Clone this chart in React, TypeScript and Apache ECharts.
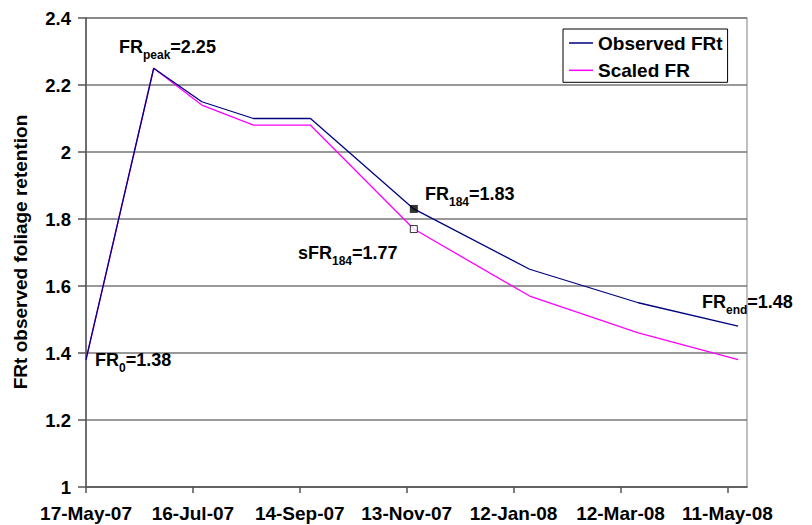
import React, { useEffect, useRef } from "react";
import * as echarts from "echarts";

const dates = [
  "2007-05-17", "2007-06-24", "2007-07-21", "2007-08-19", "2007-09-20",
  "2007-11-17", "2008-01-21", "2008-03-22", "2008-05-17",
];
const observedFRt = [1.38, 2.25, 2.15, 2.1, 2.1, 1.83, 1.65, 1.55, 1.48];
const scaledFR = [1.38, 2.25, 2.14, 2.08, 2.08, 1.77, 1.57, 1.46, 1.38];
const startDate = "2007-05-17";
const xMaxDays = 371;
const xIntervalDays = 60;
const yTicks = ["1", "1.2", "1.4", "1.6", "1.8", "2", "2.2", "2.4"];
const idx184 = 5;
const idxPeak = 1;

const MONTHS = ["Jan", "Feb", "Mar", "Apr", "May", "Jun", "Jul", "Aug", "Sep", "Oct", "Nov", "Dec"];
const DAY = 86400000;
const toUTC = (s: string) => {
  const [y, m, d] = s.split("-").map(Number);
  return Date.UTC(y, m - 1, d);
};
const dayOf = (s: string) => Math.round((toUTC(s) - toUTC(startDate)) / DAY);
const fmtDay = (n: number) => {
  const d = new Date(toUTC(startDate) + n * DAY);
  const dd = String(d.getUTCDate()).padStart(2, "0");
  return `${dd}-${MONTHS[d.getUTCMonth()]}-${String(d.getUTCFullYear()).slice(2)}`;
};

const FONT = "'Liberation Sans', Arial, sans-serif";

export default function App() {
  const ref = useRef<HTMLDivElement>(null);
  useEffect(() => {
    if (!ref.current) return;
    const chart = echarts.init(ref.current, null, { renderer: "svg" });
    const obsData = dates.map((d, i) => [dayOf(d), observedFRt[i]]);
    const scData = dates.map((d, i) => [dayOf(d), scaledFR[i]]);
    const last = dates.length - 1;
    const rich = {
      m: { fontSize: 18, fontWeight: "bold", fontFamily: FONT, color: "#000", lineHeight: 18 },
      s: { fontSize: 12, fontWeight: "bold", fontFamily: FONT, color: "#000", lineHeight: 18, verticalAlign: "top", padding: [11, 0, 0, 0] },
    };
    const ann = (x: number, y: number, pre: string, sub: string, val: number) => ({
      type: "text",
      x,
      y,
      z: 100,
      style: {
        text: `{m|${pre}}{s|${sub}}{m|=${val.toFixed(2)}}`,
        rich,
        verticalAlign: "top",
        align: "left",
      },
    });
    chart.setOption({
      animation: false,
      backgroundColor: "#fff",
      textStyle: { fontFamily: FONT },
      grid: { left: 86, right: 65, top: 18, bottom: 38, show: true, borderColor: "#aaa", borderWidth: 1.5 },
      legend: {
        data: [
          { name: "Observed FRt", icon: "rect" },
          { name: "Scaled FR", icon: "rect" },
        ],
        orient: "vertical",
        left: 563,
        top: 29,
        itemWidth: 24,
        itemHeight: 1.5,
        itemGap: 7.3,
        padding: [4, 5, 2, 6],
        backgroundColor: "#fff",
        borderColor: "#000",
        borderWidth: 1,
        borderRadius: 0,
        textStyle: { fontSize: 19, fontWeight: "bold", color: "#000", fontFamily: FONT, lineHeight: 20 },
      },
      xAxis: {
        type: "value",
        min: 0,
        max: xMaxDays,
        interval: xIntervalDays,
        axisLine: { show: true, lineStyle: { color: "#555", width: 1.5 } },
        axisTick: { show: true, length: 6, lineStyle: { color: "#555", width: 1.5 } },
        splitLine: { show: false },
        axisLabel: {
          margin: 17,
          fontSize: 19,
          fontWeight: "bold",
          color: "#000",
          fontFamily: FONT,
          showMaxLabel: false,
          formatter: (v: number) => (v % xIntervalDays === 0 ? fmtDay(v) : ""),
        },
      },
      yAxis: {
        type: "value",
        min: Number(yTicks[0]),
        max: Number(yTicks[yTicks.length - 1]),
        interval: 0.2,
        axisLine: { show: true, lineStyle: { color: "#555", width: 1.5 } },
        axisTick: { show: true, length: 8, lineStyle: { color: "#555", width: 1.5 } },
        splitLine: { show: true, lineStyle: { color: "#777", width: 1.5 } },
        axisLabel: {
          margin: 15,
          fontSize: 18.5,
          fontWeight: "bold",
          color: "#000",
          fontFamily: FONT,
          formatter: (v: number) => String(Number(v.toFixed(1))),
        },
      },
      series: [
        {
          name: "Observed FRt",
          type: "line",
          data: obsData,
          symbol: "none",
          lineStyle: { color: "#000080", width: 1.3 },
          itemStyle: { color: "#000080" },
          z: 3,
        },
        {
          name: "Scaled FR",
          type: "line",
          data: scData,
          symbol: "none",
          lineStyle: { color: "#ff00ff", width: 1.3 },
          itemStyle: { color: "#ff00ff" },
          z: 2,
        },
        {
          name: "FR184",
          type: "scatter",
          data: [obsData[idx184]],
          symbol: "rect",
          symbolSize: 8,
          itemStyle: { color: "#000", borderColor: "#000", borderWidth: 0 },
          z: 5,
        },
        {
          name: "sFR184",
          type: "scatter",
          data: [scData[idx184]],
          symbol: "rect",
          symbolSize: 7,
          itemStyle: { color: "#fff", borderColor: "#000", borderWidth: 1 },
          z: 5,
        },
      ],
      graphic: [
        {
          type: "text",
          x: 20,
          y: 252,
          rotation: Math.PI / 2,
          style: {
            text: "FRt observed foliage retention",
            fontSize: 19,
            fontWeight: "bold",
            fontFamily: FONT,
            fill: "#000",
            align: "center",
            verticalAlign: "middle",
          },
        },
        ann(119, 38, "FR", "peak", observedFRt[idxPeak]),
        ann(425, 185, "FR", "184", observedFRt[idx184]),
        ann(298, 244, "sFR", "184", scaledFR[idx184]),
        ann(95, 350.5, "FR", "0", observedFRt[0]),
        ann(702, 293, "FR", "end", observedFRt[last]),
      ],
    });
    return () => chart.dispose();
  }, []);
  return <div ref={ref} style={{ position: "fixed", left: 0, top: 0, width: 812, height: 525 }} />;
}
